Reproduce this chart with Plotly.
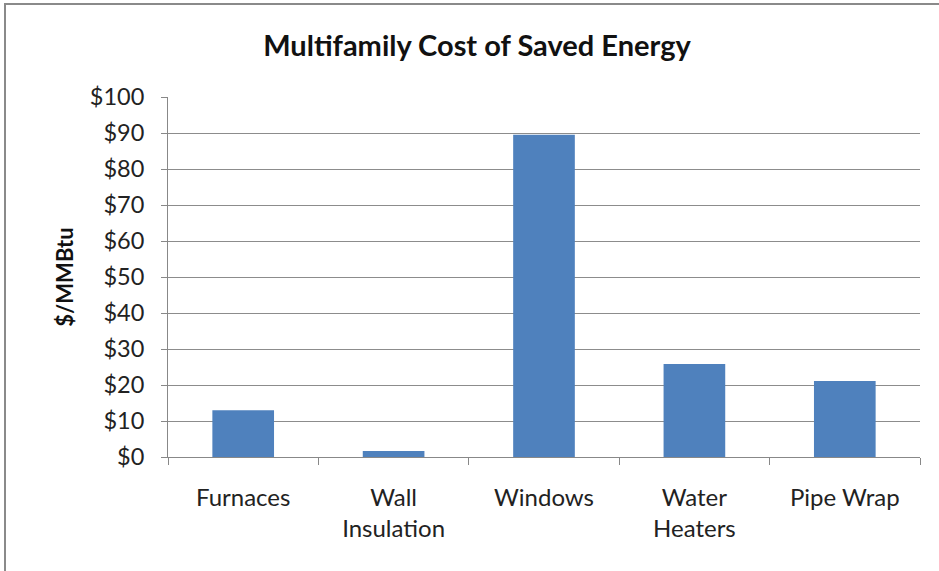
import plotly.graph_objects as go

categories = ["Furnaces", "Wall<br>Insulation", "Windows", "Water<br>Heaters", "Pipe Wrap"]
values = [13.0, 1.7, 89.5, 25.8, 21.1]
y_ticks = [0, 10, 20, 30, 40, 50, 60, 70, 80, 90, 100]
y_labels = ["$" + str(v) for v in y_ticks]

W, H = 939, 571
L, R, T, B = 168, 19, 97, 114
pw, ph = W - L - R, H - T - B

fig = go.Figure(go.Bar(x=categories, y=values, marker=dict(color="#4F81BD", line=dict(width=0)), width=0.41))

fig.update_layout(
    width=W, height=H,
    margin=dict(l=L, r=R, t=T, b=B, autoexpand=False),
    paper_bgcolor="white", plot_bgcolor="white",
    font=dict(family="Lato, Open Sans, sans-serif", color="#222"),
    showlegend=False,
    title=dict(text="<b>Multifamily Cost of Saved Energy</b>", x=477 / W, xanchor="center",
               y=1 - 46 / H, yanchor="middle", font=dict(size=29, color="#111")),
)
fig.update_xaxes(
    type="category", tickson="boundaries", ticks="outside", ticklen=7, tickcolor="#888",
    showline=True, linecolor="#888", linewidth=1, tickfont=dict(size=24, color="#222"),
    showgrid=False, ticklabelstandoff=19,
)
fig.update_yaxes(
    range=[0, 100], tickvals=y_ticks, ticktext=y_labels, ticks="outside", ticklen=6, tickcolor="#888",
    showline=True, linecolor="#888", linewidth=1, gridcolor="#8c8c8c", gridwidth=1,
    tickfont=dict(size=23.5, color="#222"), zeroline=False, ticklabelstandoff=12,
    title=dict(text="<b>$/MMBtu</b>", font=dict(size=22, color="#111"), standoff=10),
)
fig.add_shape(type="rect", xref="paper", yref="paper",
              x0=(5 - L) / pw, x1=(W + 20 - L) / pw,
              y0=-(H + 20 - (H - B)) / ph,
              y1=1 + (T - 4) / ph,
              line=dict(color="#8a8a8a", width=2), layer="below")
fig.write_html("out.html", config={"displayModeBar": False},
               post_script="document.body.style.margin='0';")
